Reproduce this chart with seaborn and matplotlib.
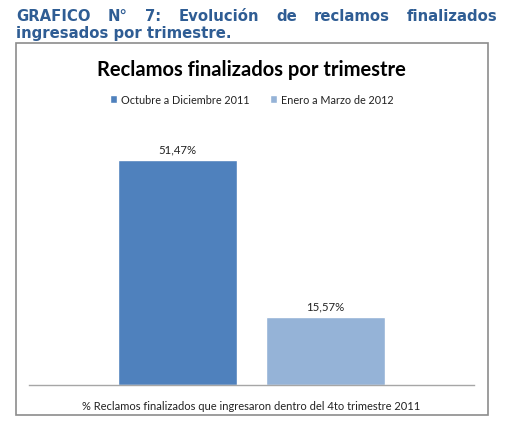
import matplotlib
matplotlib.use("Agg")
import matplotlib.pyplot as plt
import seaborn as sns
import pandas as pd
from matplotlib.patches import Rectangle

categories = ["% Reclamos finalizados que ingresaron dentro del 4to trimestre 2011"]
series = ["Octubre a Diciembre 2011", "Enero a Marzo de 2012"]
values = [51.47, 15.57]
value_labels = ["51,47%", "15,57%"]
colors = ["#4F81BD", "#95B3D7"]

df = pd.DataFrame({"cat": categories * len(series), "serie": series, "valor": values})

sns.set_theme(style="white")
plt.rcParams["font.family"] = ["Lato", "DejaVu Sans"]

W, H = 506, 439
fig = plt.figure(figsize=(W / 100, H / 100), dpi=100)
fig.patch.set_facecolor("white")

def fx(px):
    return px / W

def fy(py):
    return 1 - py / H

# chart frame
fig.patches.append(Rectangle((fx(16), fy(416)), fx(488) - fx(16), fy(44) - fy(416),
                             transform=fig.transFigure, facecolor="none",
                             edgecolor="#8C8C8C", linewidth=1.2, zorder=-1))

# header, justified first line
hdr_color = "#2F5D94"
hfs = 10.7
words1 = ["GRAFICO", "N°", "7:", "Evolución", "de", "reclamos", "finalizados"]
renderer = fig.canvas.get_renderer()
texts = [fig.text(0, fy(21), w, fontsize=hfs, fontweight="bold", color=hdr_color,
                  family="DejaVu Sans", va="baseline", ha="left") for w in words1]
widths = [t.get_window_extent(renderer).width for t in texts]
left, right = 16, 498
gap = (right - left - sum(widths)) / (len(words1) - 1)
x = left
for t, wd in zip(texts, widths):
    t.set_x(fx(x))
    x += wd + gap
fig.text(fx(16), fy(38), "ingresados por trimestre.", fontsize=hfs, fontweight="bold",
         color=hdr_color, family="DejaVu Sans", va="baseline", ha="left")

# chart title
fig.text(fx(251), fy(70), "Reclamos finalizados por trimestre", fontsize=14.5,
         fontweight="bold", color="black", ha="center", va="center")

ax = fig.add_axes([fx(29), fy(386), fx(474) - fx(29), fy(120) - fy(386)])
sns.barplot(data=df, x="cat", y="valor", hue="serie", hue_order=series,
            palette=colors, width=0.665, gap=0.196, saturation=1, ax=ax, legend=True)

ax.set_ylim(0, 60.9)
ax.set_xlim(-0.5, 0.5)
for c, lab in zip(ax.containers, value_labels):
    ax.bar_label(c, labels=[lab], padding=4, fontsize=8.2, color="#222222")

ax.set_ylabel("")
ax.set_xlabel("")
ax.set_yticks([])
ax.tick_params(axis="x", length=0, pad=11, labelsize=8.0, labelcolor="#222222")
for s in ["top", "left", "right"]:
    ax.spines[s].set_visible(False)
ax.spines["bottom"].set_color("#A6A6A6")
ax.spines["bottom"].set_linewidth(1)
ax.set_facecolor("none")

ax.legend(loc="center", bbox_to_anchor=(0.5, (fy(100) - fy(386)) / (fy(120) - fy(386))),
          ncol=2, frameon=False, fontsize=7.8, handlelength=0.7, handleheight=0.7,
          handletextpad=0.3, columnspacing=1.9, labelcolor="#222222")

fig.savefig("out.png", dpi=100, facecolor="white")
